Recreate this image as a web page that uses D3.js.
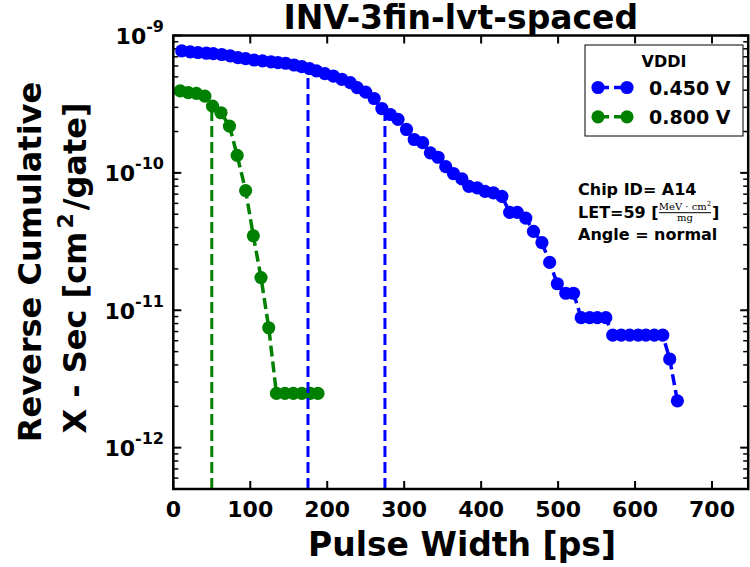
<!DOCTYPE html>
<html>
<head>
<meta charset="utf-8">
<style>
  body { margin: 0; background: #fff; }
  text { font-family: "DejaVu Sans", sans-serif; font-weight: bold; }
</style>
</head>
<body>
<script src="https://d3js.org/d3.v7.min.js"></script>
<script>
// pulse width [ps] and reverse cumulative cross-section [cm^2/gate]
var blueX = [11, 22, 32, 43, 52, 63, 74, 84, 94, 105,
  116, 127, 136, 146, 157, 167, 177, 186, 197, 208,
  219, 230, 239, 250, 261, 271, 282, 292, 303, 313,
  324, 334, 344, 354, 364, 375, 384,
  395, 405, 416, 427, 437, 447, 458, 468, 479, 489,
  499, 510, 520, 530, 541, 551, 562, 571, 582, 593,
  604, 614, 625, 636, 645, 655];
var blueY = [7.72e-10, 7.59e-10, 7.52e-10, 7.43e-10, 7.39e-10, 7.27e-10, 7.10e-10, 6.91e-10, 6.79e-10, 6.63e-10,
  6.53e-10, 6.42e-10, 6.35e-10, 6.28e-10, 6.10e-10, 5.94e-10, 5.74e-10, 5.52e-10, 5.28e-10, 5.07e-10,
  4.80e-10, 4.54e-10, 4.17e-10, 3.87e-10, 3.48e-10, 2.94e-10, 2.66e-10, 2.45e-10, 2.07e-10, 1.75e-10,
  1.66e-10, 1.40e-10, 1.30e-10, 1.11e-10, 9.89e-11, 9.04e-11, 7.98e-11,
  7.78e-11, 7.34e-11, 7.15e-11, 6.75e-11, 5.16e-11, 5.16e-11, 4.69e-11, 3.75e-11, 3.11e-11, 2.23e-11,
  1.56e-11, 1.33e-11, 1.33e-11, 8.83e-12, 8.83e-12, 8.83e-12, 8.83e-12, 6.60e-12, 6.60e-12, 6.60e-12,
  6.60e-12, 6.60e-12, 6.60e-12, 6.60e-12, 4.42e-12, 2.19e-12];

var greenX = [9, 19.5, 30, 41, 51, 62, 73, 83, 94, 104, 114, 124, 134, 145, 156, 167, 178, 188];
var greenY = [3.95e-10, 3.84e-10, 3.79e-10, 3.62e-10, 3.06e-10, 2.74e-10, 2.19e-10, 1.34e-10, 7.43e-11,
  3.48e-11, 1.73e-11, 7.46e-12, 2.48e-12, 2.48e-12, 2.48e-12, 2.48e-12, 2.48e-12, 2.48e-12];

var blueMarks = [175, 275];
var greenMarks = [50];

var seriesNames = ['0.450 V', '0.800 V'];
var seriesColors = ['#0000ff', '#008000'];

var xTicks = [0, 100, 200, 300, 400, 500, 600, 700];
var yExp = [-12, -11, -10, -9];

var width = 750, height = 567;

var svg = d3.select('body').append('svg')
    .attr('width', width)
    .attr('height', height);

var x = d3.scaleLinear().domain([0, 747]).range([173.3, 748.2]);
var y = d3.scaleLog().domain([5e-13, 1e-9]).range([489, 35.5]);

var x0 = x.range()[0], x1 = x.range()[1];
var y0 = y.range()[0], y1 = y.range()[1];

// minor log ticks
var minor = [];
for (var e = -13; e <= -10; e++) {
  for (var m = 2; m <= 9; m++) {
    var v = m * Math.pow(10, e);
    if (v >= 5e-13 && v < 1e-9) minor.push(v);
  }
}

var ticks = svg.append('g').attr('stroke', '#000');
// y ticks left and right (inward)
minor.forEach(function(v) {
  ticks.append('line').attr('x1', x0).attr('x2', x0 + 5).attr('y1', y(v)).attr('y2', y(v)).attr('stroke-width', 1.5);
  ticks.append('line').attr('x1', x1).attr('x2', x1 - 5).attr('y1', y(v)).attr('y2', y(v)).attr('stroke-width', 1.5);
});
yExp.forEach(function(p) {
  var v = Math.pow(10, p);
  ticks.append('line').attr('x1', x0).attr('x2', x0 + 8).attr('y1', y(v)).attr('y2', y(v)).attr('stroke-width', 2);
  ticks.append('line').attr('x1', x1).attr('x2', x1 - 8).attr('y1', y(v)).attr('y2', y(v)).attr('stroke-width', 2);
});
// x ticks bottom and top (inward)
xTicks.forEach(function(t) {
  ticks.append('line').attr('x1', x(t)).attr('x2', x(t)).attr('y1', y0).attr('y2', y0 - 8).attr('stroke-width', 2);
  ticks.append('line').attr('x1', x(t)).attr('x2', x(t)).attr('y1', y1).attr('y2', y1 + 8).attr('stroke-width', 2);
});

// x tick labels
svg.append('g').selectAll('text')
    .data(xTicks)
  .enter().append('text')
    .attr('x', function(d) { return x(d); })
    .attr('y', 517)
    .attr('text-anchor', 'middle')
    .style('font-size', '22px')
    .text(function(d) { return d; });

// y tick labels 10^p
var yl = svg.append('g').selectAll('text')
    .data(yExp)
  .enter().append('text')
    .attr('x', 164)
    .attr('y', function(d) { return y(Math.pow(10, d)) + 8.5; })
    .attr('text-anchor', 'end');
yl.append('tspan').style('font-size', '22px').text('10');
yl.append('tspan').style('font-size', '16px').attr('dy', -12).text(function(d) { return '-' + (-d); });

// series lines and markers
var series = [
  { name: seriesNames[0], color: seriesColors[0], xs: blueX, ys: blueY },
  { name: seriesNames[1], color: seriesColors[1], xs: greenX, ys: greenY }
];

var line = d3.line()
    .x(function(d) { return x(d[0]); })
    .y(function(d) { return y(d[1]); });

series.forEach(function(s) {
  var pts = s.xs.map(function(v, i) { return [v, s.ys[i]]; });
  svg.append('path')
      .datum(pts)
      .attr('d', line)
      .attr('fill', 'none')
      .attr('stroke', s.color)
      .attr('stroke-width', 3.5)
      .attr('stroke-dasharray', '11,5');
  svg.append('g').selectAll('circle')
      .data(pts)
    .enter().append('circle')
      .attr('cx', function(d) { return x(d[0]); })
      .attr('cy', function(d) { return y(d[1]); })
      .attr('r', 6.6)
      .attr('fill', s.color);
});

// value of a series at px (log interpolation)
function valueAt(xs, ys, px) {
  for (var i = 0; i < xs.length - 1; i++) {
    if (px >= xs[i] && px <= xs[i + 1]) {
      var f = (px - xs[i]) / (xs[i + 1] - xs[i]);
      return Math.pow(10, Math.log10(ys[i]) + f * (Math.log10(ys[i + 1]) - Math.log10(ys[i])));
    }
  }
  return ys[0];
}

// vertical dashed markers
function vlines(marks, s) {
  svg.append('g').selectAll('line')
      .data(marks)
    .enter().append('line')
      .attr('x1', function(d) { return x(d); })
      .attr('x2', function(d) { return x(d); })
      .attr('y1', y0)
      .attr('y2', function(d) { return y(valueAt(s.xs, s.ys, d)); })
      .attr('stroke', s.color)
      .attr('stroke-width', 3)
      .attr('stroke-dasharray', '11,5');
}
vlines(blueMarks, series[0]);
vlines(greenMarks, series[1]);

// frame
svg.append('rect')
    .attr('x', x0).attr('y', y1)
    .attr('width', x1 - x0).attr('height', y0 - y1)
    .attr('fill', 'none')
    .attr('stroke', '#000')
    .attr('stroke-width', 2.5);

// legend
var lg = svg.append('g');
lg.append('rect')
    .attr('x', 585).attr('y', 45).attr('width', 158).attr('height', 91)
    .attr('fill', '#fff').attr('stroke', '#000').attr('stroke-width', 1);
lg.append('text').attr('x', 664).attr('y', 66.5).attr('text-anchor', 'middle')
    .style('font-size', '16px').text('VDDI');
series.forEach(function(s, i) {
  var cy = 87.5 + i * 29.3;
  lg.append('line').attr('x1', 598).attr('x2', 627).attr('y1', cy).attr('y2', cy)
      .attr('stroke', s.color).attr('stroke-width', 3.5).attr('stroke-dasharray', '11,5');
  lg.append('circle').attr('cx', 598).attr('cy', cy).attr('r', 6.6).attr('fill', s.color);
  lg.append('circle').attr('cx', 627).attr('cy', cy).attr('r', 6.6).attr('fill', s.color);
  lg.append('text').attr('x', 649).attr('y', cy + 7).style('font-size', '19px').text(s.name);
});

// annotation
var an = svg.append('g').style('font-size', '16px');
an.append('text').attr('x', 578).attr('y', 195).text('Chip ID= A14');
an.append('text').attr('x', 578).attr('y', 217.5).text('LET=59 [');
an.append('text').attr('x', 712).attr('y', 217.5).text(']');
an.append('text').attr('x', 578).attr('y', 239.5).text('Angle = normal');
var fr = an.append('g');
var num = fr.append('text').attr('x', 685).attr('y', 209.5).attr('text-anchor', 'middle')
    .style('font-family', '"DejaVu Serif", serif').style('font-weight', 'normal').style('font-size', '10px');
num.append('tspan').text('MeV \u00b7 cm');
num.append('tspan').attr('dy', -4).style('font-size', '7px').text('2');
fr.append('line').attr('x1', 659).attr('x2', 711).attr('y1', 212.7).attr('y2', 212.7)
    .attr('stroke', '#000').attr('stroke-width', 1);
fr.append('text').attr('x', 685).attr('y', 220.5).attr('text-anchor', 'middle')
    .style('font-family', '"DejaVu Serif", serif').style('font-weight', 'normal').style('font-size', '10px')
    .text('mg');

// title and axis labels
svg.append('text').attr('x', (x0 + x1) / 2).attr('y', 29).attr('text-anchor', 'middle')
    .style('font-size', '33px').text('INV-3fin-lvt-spaced');
svg.append('text').attr('x', 462).attr('y', 556).attr('text-anchor', 'middle')
    .style('font-size', '33px').text('Pulse Width [ps]');
svg.append('text').attr('transform', 'translate(41,262) rotate(-90)').attr('text-anchor', 'middle')
    .style('font-size', '32px').text('Reverse Cumulative');
var yl2 = svg.append('text').attr('transform', 'translate(86,268) rotate(-90)').attr('text-anchor', 'middle')
    .style('font-size', '32px');
yl2.append('tspan').text('X - Sec [cm');
yl2.append('tspan').attr('dy', -13).attr('dx', 3).style('font-size', '22px').text('2');
yl2.append('tspan').attr('dy', 13).attr('dx', 3).text('/gate]');
</script>
</body>
</html>
